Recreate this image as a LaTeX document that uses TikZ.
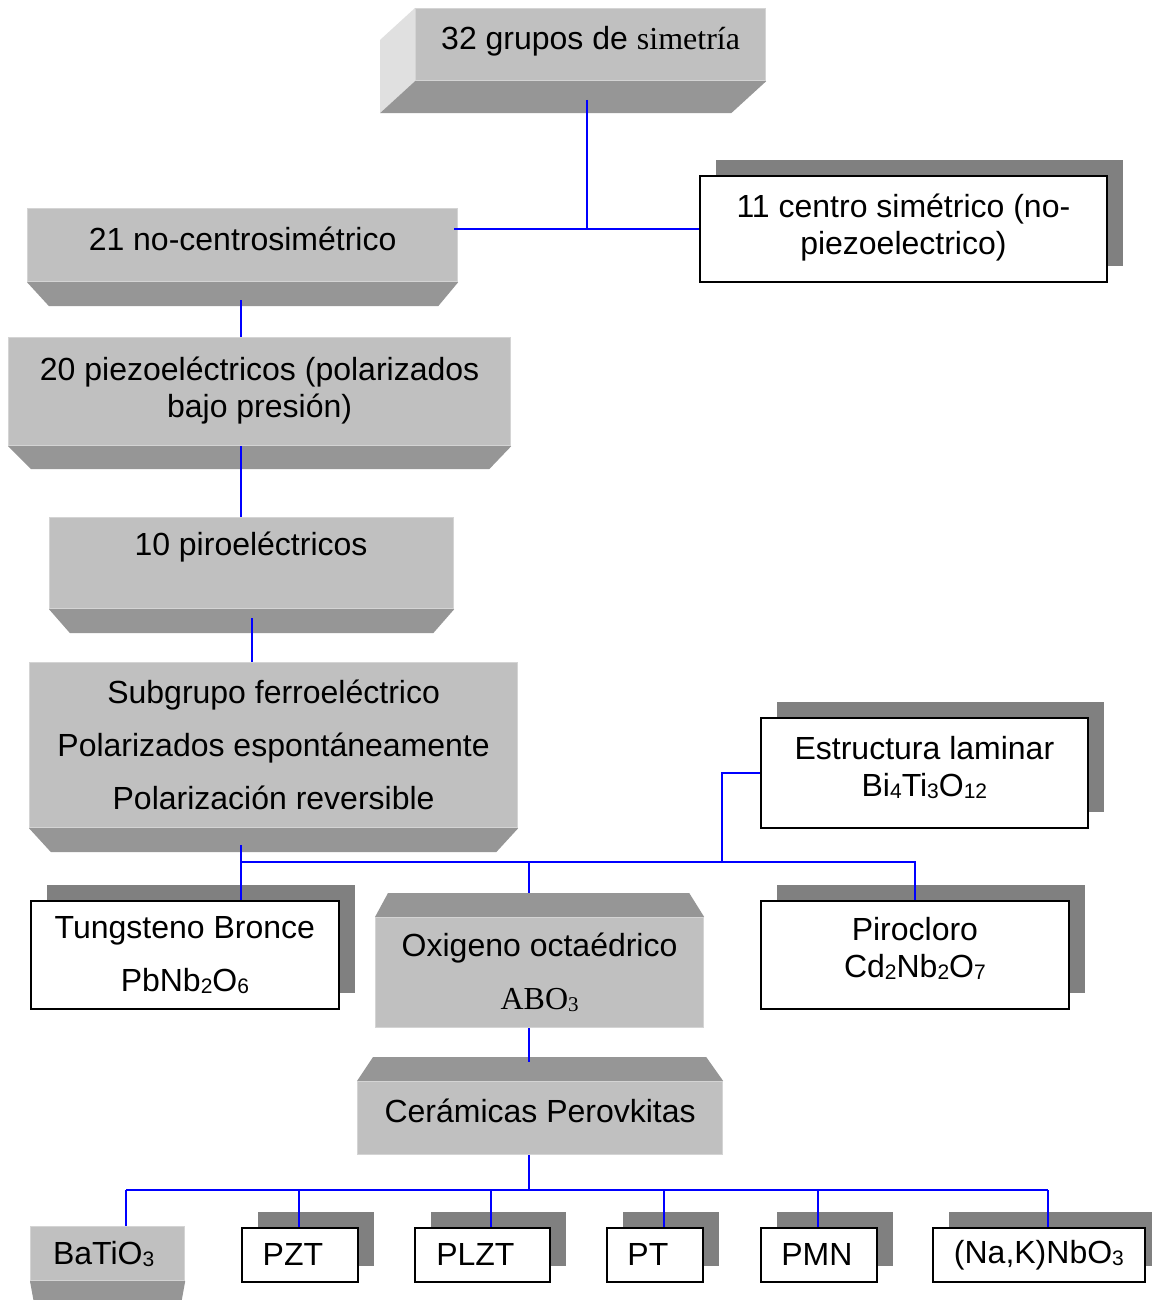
\documentclass[tikz,border=0pt]{standalone}
\usepackage{fontspec}
\setmainfont{Liberation Sans}
\newfontfamily\timesfont{Liberation Serif}
\usetikzlibrary{calc,shadows}
\pgfdeclarelayer{background}
\pgfdeclarelayer{paper}
\pgfsetlayers{paper,background,main}
\definecolor{facegray}{HTML}{C0C0C0}
\definecolor{botgray}{HTML}{969696}
\definecolor{sidegray}{HTML}{E0E0E0}
\definecolor{shadowgray}{HTML}{808080}
\definecolor{edgegray}{HTML}{D4D4D4}
\newcommand\bigtxt{\fontsize{32}{37}\selectfont}
\newcommand\chemsub[1]{\raisebox{-2pt}{\fontsize{21}{21}\selectfont #1}}
\begin{document}
\begin{tikzpicture}[x=1pt,y=-1pt,
  face/.style={fill=facegray, draw=edgegray, line width=1.2pt, inner sep=0pt,
    anchor=north west, font=\bigtxt, align=center},
  bottomface/.style={fill=botgray},
  sideface/.style={fill=sidegray},
  wbox/.style={fill=white, draw=black, line width=1.8pt, inner sep=0pt,
    anchor=north west, font=\bigtxt, align=center,
    drop shadow={shadow xshift=16pt, shadow yshift=16pt, opacity=1, fill=shadowgray}},
  link/.style={draw=blue, line width=2pt}]
\useasboundingbox (0,0) rectangle (1151,1300);
\begin{pgfonlayer}{paper}
  \fill[white] (0,0) rectangle (1151,1300);
\end{pgfonlayer}

% ---- raised grey blocks (front faces) ----
\node[face, minimum width=350pt, minimum height=72pt, text depth=14pt] (g32) at (415,8)
  {32 grupos de {\timesfont simetría}};
\node[face, minimum width=430pt, minimum height=73pt, text depth=12pt] (n21) at (27,208)
  {21 no-centrosimétrico};
\node[face, minimum width=502pt, minimum height=108pt, text depth=8pt] (p20) at (8,337)
  {20 piezoeléctricos (polarizados\\bajo presión)};
\node[face, minimum width=404pt, minimum height=91pt] (p10) at (49,517) {};
\node[font=\bigtxt] (p10t) at (251,547) {10 piroeléctricos};
\node[face, minimum width=488pt, minimum height=165pt] (fe) at (29,662)
  {Subgrupo ferroeléctrico\\[16pt]Polarizados espontáneamente\\[16pt]Polarización reversible};
\node[face, minimum width=328pt, minimum height=110pt] (oxi) at (375,917)
  {Oxigeno octaédrico\\[16pt]{\timesfont ABO\chemsub{3}}};
\node[face, minimum width=365pt, minimum height=73pt, text depth=14pt] (cer) at (357,1081)
  {Cerámicas Perovkitas};
\node[face, minimum width=154pt, minimum height=54pt] (bat) at (30,1226)
  {BaTiO\chemsub{3}\hspace{8pt}};

% ---- bevel faces of the blocks ----
\begin{pgfonlayer}{background}
  \fill[sideface] (g32.north west) -- (g32.south west) -- ++(-35,32)
    -- ($(g32.north west)+(-35,32)$) -- cycle;
  \fill[bottomface] (g32.south west) -- (g32.south east) -- ++(-35,32)
    -- ($(g32.south west)+(-35,32)$) -- cycle;
  \fill[bottomface] (n21.south west) -- (n21.south east) -- ++(-20,24)
    -- ($(n21.south west)+(22,24)$) -- cycle;
  \fill[bottomface] (p20.south west) -- (p20.south east) -- ++(-22,23)
    -- ($(p20.south west)+(23,23)$) -- cycle;
  \fill[bottomface] (p10.south west) -- (p10.south east) -- ++(-21,24)
    -- ($(p10.south west)+(21,24)$) -- cycle;
  \fill[bottomface] (fe.south west) -- (fe.south east) -- ++(-22,24)
    -- ($(fe.south west)+(22,24)$) -- cycle;
  \fill[bottomface] (bat.south west) -- (bat.south east) -- ++(-4,22)
    -- ($(bat.south west)+(4,22)$) -- cycle;
  \fill[bottomface] (oxi.north west) -- (oxi.north east) -- ++(-15,-24)
    -- ($(oxi.north west)+(13,-24)$) -- cycle;
  \fill[bottomface] (cer.north west) -- (cer.north east) -- ++(-17,-24)
    -- ($(cer.north west)+(16,-24)$) -- cycle;
\end{pgfonlayer}

% ---- framed boxes with shadow ----
\node[wbox, minimum width=407pt, minimum height=106pt, text depth=10pt] (c11) at (699,175)
  {11 centro simétrico (no-\\piezoelectrico)};
\node[wbox, minimum width=327pt, minimum height=110pt, text depth=14pt] (estr) at (760,717)
  {Estructura laminar\\Bi\chemsub{4}Ti\chemsub{3}O\chemsub{12}};
\node[wbox, minimum width=308pt, minimum height=108pt] (tung) at (30,900)
  {Tungsteno Bronce\\[16pt]PbNb\chemsub{2}O\chemsub{6}};
\node[wbox, minimum width=308pt, minimum height=108pt, text depth=16pt] (piro) at (760,900)
  {Pirocloro\\Cd\chemsub{2}Nb\chemsub{2}O\chemsub{7}};
\node[wbox, minimum width=116pt, minimum height=54pt] (pzt) at (241,1227) {PZT\hspace{14pt}};
\node[wbox, minimum width=135pt, minimum height=54pt] (plzt) at (414,1227) {PLZT\hspace{14pt}};
\node[wbox, minimum width=96pt, minimum height=54pt] (pt) at (606,1227) {PT\hspace{14pt}};
\node[wbox, minimum width=116pt, minimum height=54pt] (pmn) at (760,1227) {PMN\hspace{4pt}};
\node[wbox, minimum width=212pt, minimum height=54pt] (nak) at (932,1227) {(Na,K)NbO\chemsub{3}};

% ---- connectors ----
\coordinate (g32-out) at (587,100);
\coordinate (n21-out) at (241,300);
\coordinate (p10-out) at (252,618);
\coordinate (fe-out) at (241,845);
\coordinate (busA) at (241,862);
\coordinate (estr-tap) at (722,862);
\coordinate (oxi-in) at (529,893);
\coordinate (cer-in) at (529,1062);
\coordinate (busB) at (529,1190);
\coordinate (busB-l) at (126,1190);
\coordinate (busB-r) at (1048,1190);

\draw[link] (g32-out) -- (g32-out |- c11.west);
\draw[link] (c11.west) -- ($(n21.east |- c11.west)+(-4,0)$);
\draw[link] (n21-out) -- (n21-out |- p20.north);
\draw[link] (n21-out |- p20.south) -- (n21-out |- p10.north);
\draw[link] (p10-out) -- (p10-out |- fe.north);
\draw[link] (fe-out) -- (fe-out |- tung.north);
\draw[link] (busA) -- (busA -| piro.north) -- (piro.north);
\draw[link] (oxi-in |- busA) -- (oxi-in);
\draw[link] (estr-tap) |- (estr.west);
\draw[link] (oxi-in |- oxi.south) -- (cer-in);
\draw[link] (oxi-in |- cer.south) -- (busB);
\draw[link] (busB-l) -- (busB-r);
\foreach \n/\x in {bat/126, pzt/299, plzt/491, pt/664, pmn/818, nak/1048}
  \draw[link] (\x,1190) -- (\x,1190 |- \n.north);
\end{tikzpicture}
\end{document}
